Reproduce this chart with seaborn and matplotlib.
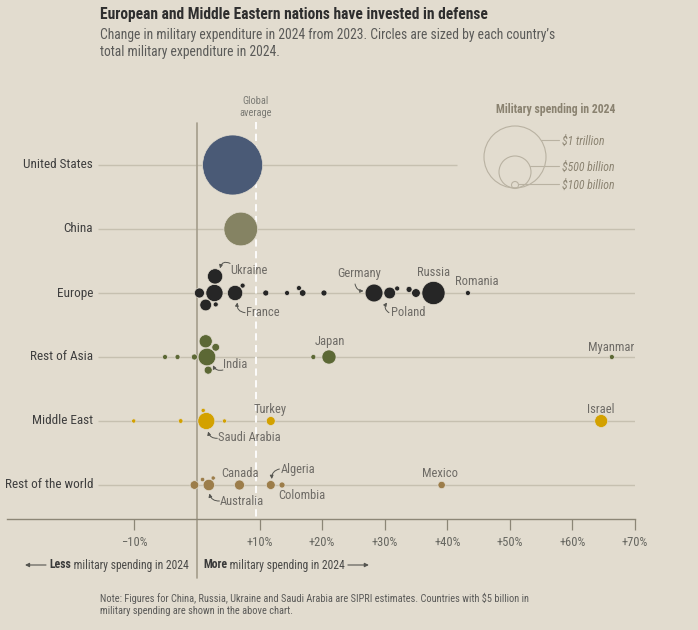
import numpy as np
import pandas as pd
import matplotlib
matplotlib.use("Agg")
import matplotlib.pyplot as plt
import seaborn as sns
from matplotlib.patches import Circle

# ---------------- data ----------------
regions = ["United States", "China", "Europe", "Rest of Asia", "Middle East", "Rest of the world"]

us_names = ["United States"]
us_change = [5.7]
us_spend = [997]

cn_names = ["China"]
cn_change = [7.0]
cn_spend = [314]

eu_names = ["Russia", "Germany", "United Kingdom", "France", "Ukraine", "Poland", "Italy", "Spain",
            "Netherlands", "Norway", "Denmark", "Belgium", "Greece", "Switzerland", "Austria",
            "Finland", "Portugal", "Czechia", "Romania"]
eu_change = [37.8, 28.3, 2.8, 6.1, 2.9, 30.8, 1.4, 0.4,
             35.0, 16.9, 33.9, 20.3, 11.0, 3.0, 7.3,
             14.4, 16.3, 32.0, 43.3]
eu_spend = [149, 88.5, 81.8, 64.7, 64.7, 38.0, 38.0, 27.7,
            21.0, 12.0, 10.0, 10.0, 10.0, 7.0, 7.0,
            7.0, 7.0, 7.0, 7.0]

as_names = ["India", "Japan", "South Korea", "Pakistan", "Taiwan", "Singapore", "Indonesia",
            "Thailand", "Philippines", "Myanmar"]
as_change = [1.6, 21.1, 1.4, 1.8, 3.0, -0.4, -5.1, -3.1, 18.6, 66.3]
as_spend = [86.1, 55.3, 47.6, 17.7, 16.5, 10.0, 7.0, 7.0, 7.0, 7.0]

me_names = ["Saudi Arabia", "Israel", "Turkey", "Iran", "Kuwait", "Qatar", "Oman"]
me_change = [1.5, 64.6, 11.8, -10.1, -2.6, 1.0, 4.4]
me_spend = [80.3, 46.5, 22.0, 5.0, 6.0, 5.0, 5.0]

rw_names = ["Australia", "Canada", "Algeria", "Brazil", "Mexico", "Colombia", "Egypt", "Chile"]
rw_change = [1.9, 6.8, 11.8, -0.4, 39.1, 13.6, 0.9, 2.6]
rw_spend = [36.0, 27.7, 22.0, 20.5, 15.0, 10.0, 5.4, 5.0]

global_average = 9.4

tick_values = [-10, 10, 20, 30, 40, 50, 60, 70]
tick_labels = ["\u221210%", "+10%", "+20%", "+30%", "+40%", "+50%", "+60%", "+70%"]

legend_values = ["$1 trillion", "$500 billion", "$100 billion"]

# ---------------- style ----------------
BG = "#e2dccf"
colors = {"United States": "#4a5a76", "China": "#858363", "Europe": "#262626",
          "Rest of Asia": "#5c6835", "Middle East": "#d3a100", "Rest of the world": "#9c7d4a"}

sns.set_theme(style="white")
plt.rcParams["font.family"] = ["Roboto Condensed", "DejaVu Sans"]
plt.rcParams["axes.unicode_minus"] = False

rows = []
for reg, names, ch, sp in [("United States", us_names, us_change, us_spend),
                           ("China", cn_names, cn_change, cn_spend),
                           ("Europe", eu_names, eu_change, eu_spend),
                           ("Rest of Asia", as_names, as_change, as_spend),
                           ("Middle East", me_names, me_change, me_spend),
                           ("Rest of the world", rw_names, rw_change, rw_spend)]:
    for n, c, s in zip(names, ch, sp):
        rows.append({"region": reg, "country": n, "change": c, "spend": s,
                     "row": regions.index(reg)})
df = pd.DataFrame(rows)

W, H = 698, 630
fig = plt.figure(figsize=(W / 100, H / 100), dpi=100, facecolor=BG)
ax = fig.add_axes([7 / W, (H - 519) / H, (635 - 7) / W, (519 - 90) / H])
ax.set_facecolor("none")
ax.set_xlim(-30.35, 69.97)
ROWPX = 64.0
ax.set_ylim((519 - 165) / ROWPX, (90 - 165) / ROWPX)

ov = fig.add_axes([0, 0, 1, 1], zorder=5)
ov.set_xlim(0, W)
ov.set_ylim(H, 0)
ov.axis("off")
ov.set_facecolor("none")

# pixel scale of the data axes
p0 = ax.transData.transform((0, 0))
p1 = ax.transData.transform((1, 1))
ppx = p1[0] - p0[0]
ppy = abs(p1[1] - p0[1])

# radius in pixels ~ sqrt(spend)
K = 0.95
df["r"] = K * np.sqrt(df["spend"])


def swarm(xs, rs, gap=0.4):
    n = len(xs)
    ys = np.zeros(n)
    placed = []
    for i in sorted(range(n), key=lambda k: -rs[k]):
        cands = [0.0]
        for (xj, yj, rj) in placed:
            d = rs[i] + rj + gap
            dx = xs[i] - xj
            if abs(dx) < d:
                h = np.sqrt(d * d - dx * dx)
                cands += [yj - h, yj + h]
        cands = sorted(cands, key=lambda y: (round(abs(y), 6), y))
        for y in cands:
            ok = all((xs[i] - xj) ** 2 + (y - yj) ** 2 >= (rs[i] + rj + gap) ** 2 - 1e-6
                     for (xj, yj, rj) in placed)
            if ok:
                ys[i] = y
                break
        placed.append((xs[i], ys[i], rs[i]))
    return ys


df["offset"] = 0.0
for reg in regions:
    m = df["region"] == reg
    sub = df[m]
    offs = swarm(list(sub["change"] * ppx), list(sub["r"]))
    df.loc[m, "offset"] = offs
df["y"] = df["row"] + df["offset"] / ppy

# grid lines per row
line_color = "#c6c0b0"
for i, reg in enumerate(regions):
    x_end = 41.5 if reg == "United States" else 69.97
    ax.plot([-15.8, x_end], [i, i], color=line_color, lw=1.0, zorder=1, solid_capstyle="butt")
    ax.text(-16.6, i, reg, ha="right", va="center", fontsize=9.5, color="#3f3f3f")

# zero line & global average
ax.plot([0, 0], [(123 - 165) / ROWPX, (578 - 165) / ROWPX], color="#a49d8b", lw=1.2,
        clip_on=False, zorder=2)
ax.plot([global_average, global_average], [(122 - 165) / ROWPX, (519 - 165) / ROWPX],
        color="white", lw=1.3, ls=(0, (4, 2.5)), zorder=1.5)
gx = ax.transData.transform((global_average, 0))[0]
ov.text(gx, 101, "Global", ha="center", va="center", fontsize=7.5, color="#7a7a74")
ov.text(gx, 113, "average", ha="center", va="center", fontsize=7.5, color="#7a7a74")

# bubbles
S = (2 * K * 0.72) ** 2  # pt^2 per unit spend
vmin, vmax = df["spend"].min(), df["spend"].max()
sns.scatterplot(data=df, x="change", y="y", hue="region", palette=colors,
                size="spend", sizes=(S * vmin, S * vmax), size_norm=(vmin, vmax),
                edgecolor=BG, linewidth=0.5, alpha=1, legend=False, ax=ax, zorder=3)

ax.set_xlabel("")
ax.set_ylabel("")
ax.set_yticks([])
ax.set_xticks(tick_values)
ax.set_xticklabels(tick_labels)
ax.tick_params(axis="x", length=8, width=0.9, color="#8c8676", labelcolor="#666660",
               labelsize=9, pad=4, bottom=True)
for s in ["top", "left", "right"]:
    ax.spines[s].set_visible(False)
ax.spines["bottom"].set_color("#8c8676")
ax.spines["bottom"].set_linewidth(1.0)

# annotations
def pix(country):
    r = df[df["country"] == country].iloc[0]
    d = ax.transData.transform((r["change"], r["y"]))
    return d[0], H - d[1]

ann_color = "#6e6b66"
labels = [
    # country, text dx, dy, ha, arrow(start dx,dy,end dx,dy,rad)
    ("Ukraine", 15, -6, "left", (15, -13, 5, -8, 0.6)),
    ("France", 11, 19, "left", (10, 19.7, 2.3, 9.5, -0.5)),
    ("Germany", -15, -20, "center", (-19, -9, -10.5, -2, 0.4)),
    ("Poland", 1, 19, "left", (-0.7, 19.7, -2.7, 9.5, -0.5)),
    ("Russia", 0, -20, "center", None),
    ("Romania", 9.4, -11.3, "center", None),
    ("Japan", 0.7, -15.7, "center", None),
    ("India", 15.7, 7.7, "left", (16, 13, 6, 8.3, -0.4)),
    ("Myanmar", -1, -10, "center", None),
    ("Turkey", -0.4, -11, "center", None),
    ("Israel", -0.4, -11.7, "center", None),
    ("Saudi Arabia", 11.8, 16.3, "left", (11, 17.3, 1.8, 10.5, -0.4)),
    ("Canada", 0.7, -11.7, "center", None),
    ("Algeria", 10, -16, "left", (8.6, -16, 1, -6, 0.4)),
    ("Colombia", -3.3, 10.3, "left", None),
    ("Mexico", -1.3, -11.7, "center", None),
    ("Australia", 11.3, 16.7, "left", (10.6, 16, 0.6, 8.5, -0.4)),
]
for name, dx, dy, ha, arr in labels:
    cx, cy = pix(name)
    ov.text(cx + dx, cy + dy, name, ha=ha, va="center", fontsize=9, color=ann_color)
    if arr is not None:
        sx, sy, ex, ey, rad = arr
        ov.annotate("", xy=(cx + ex, cy + ey), xytext=(cx + sx, cy + sy),
                    arrowprops=dict(arrowstyle="-|>", color="#555550", lw=0.7,
                                    mutation_scale=5, shrinkA=0, shrinkB=0,
                                    connectionstyle=f"arc3,rad={rad}"))

# title
ov.text(100, 14, "European and Middle Eastern nations have invested in defense",
        fontsize=11.2, fontweight="bold", color="#2e2e2e", va="center")
ov.text(100, 35, "Change in military expenditure in 2024 from 2023. Circles are sized by each country\u2019s",
        fontsize=9.8, color="#5a5a58", va="center")
ov.text(100, 52, "total military expenditure in 2024.", fontsize=9.8, color="#5a5a58", va="center")

# size legend
lc = "#b9b2a2"
ov.text(496, 110, "Military spending in 2024", fontsize=8.5, fontweight="bold", color="#8a8270",
        va="center")
for (cy, r, ly, lab) in [(157, 31, 140, legend_values[0]), (172, 16, 166, legend_values[1]),
                         (185, 3.5, 184, legend_values[2])]:
    ov.add_patch(Circle((515, cy), r, fill=False, ec=lc, lw=0.8))
    x0 = 515 + np.sqrt(max(r * r - (ly - cy) ** 2, 0))
    ov.plot([x0, 559], [ly, ly], color=lc, lw=0.8)
    ov.text(561.5, ly + 1.5, lab, fontsize=8.5, style="italic", color="#8a8270", va="center")

# bottom direction labels
fig.canvas.draw()
rend = fig.canvas.get_renderer()
BFS = 8.4
t1 = ov.text(49, 565, "Less", fontsize=BFS, fontweight="bold", color="#3a3a3a", va="center")
x1 = t1.get_window_extent(rend).x1
ov.text(x1, 565, " military spending in 2024", fontsize=BFS, color="#4a4a48", va="center")
ov.annotate("", xy=(25, 565), xytext=(46, 565),
            arrowprops=dict(arrowstyle="-|>", color="#555550", lw=0.8, mutation_scale=6,
                            shrinkA=0, shrinkB=0))
t2 = ov.text(203, 565, "More", fontsize=BFS, fontweight="bold", color="#3a3a3a", va="center")
x2 = t2.get_window_extent(rend).x1
t3 = ov.text(x2, 565, " military spending in 2024", fontsize=BFS, color="#4a4a48", va="center")
x3 = t3.get_window_extent(rend).x1
ov.annotate("", xy=(x3 + 24, 565), xytext=(x3 + 3, 565),
            arrowprops=dict(arrowstyle="-|>", color="#555550", lw=0.8, mutation_scale=6,
                            shrinkA=0, shrinkB=0))

# note
ov.text(100, 598, "Note: Figures for China, Russia, Ukraine and Saudi Arabia are SIPRI estimates. "
        "Countries with $5 billion in", fontsize=7.5, color="#5a5a58", va="center")
ov.text(100, 611, "military spending are shown in the above chart.", fontsize=7.5,
        color="#5a5a58", va="center")

fig.savefig("out.png", dpi=100, facecolor=BG)
